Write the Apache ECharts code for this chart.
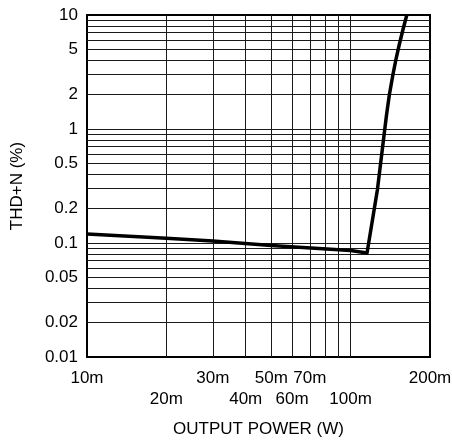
<!DOCTYPE html>
<html>
<head>
<meta charset="utf-8">
<script src="https://cdn.jsdelivr.net/npm/echarts@6/dist/echarts.min.js"></script>
<style>
html,body{margin:0;padding:0;background:#fff;}
#chart{width:452px;height:440px;}
</style>
</head>
<body>
<div id="chart"></div>
<script>
// Curve data: output power (W) vs THD+N (%)
var powerW = [0.01, 0.02, 0.03, 0.05, 0.1, 0.1154, 0.1263, 0.1339, 0.1368, 0.1402, 0.1446, 0.1484, 0.1528, 0.1578, 0.1633];
var thdPct = [0.120, 0.110, 0.104, 0.095, 0.086, 0.0817, 0.292, 0.886, 1.327, 1.988, 2.977, 4.031, 5.456, 7.385, 10];

// Tick labels
var xTickValues = [0.01, 0.02, 0.03, 0.04, 0.05, 0.06, 0.07, 0.1, 0.2];
var xTickLabels = ['10m', '20m', '30m', '40m', '50m', '60m', '70m', '100m', '200m'];
var xTickLower  = [false, true, false, true, false, true, false, true, false];
var yTickValues = [0.01, 0.02, 0.05, 0.1, 0.2, 0.5, 1, 2, 5, 10];
var yTickLabels = ['0.01', '0.02', '0.05', '0.1', '0.2', '0.5', '1', '2', '5', '10'];

// Grid lines
var xGridValues = [0.02, 0.03, 0.04, 0.05, 0.06, 0.07, 0.08, 0.09, 0.1];
var yGridValues = [0.02, 0.03, 0.04, 0.05, 0.06, 0.07, 0.08, 0.09, 0.1,
                   0.2, 0.3, 0.4, 0.5, 0.6, 0.7, 0.8, 0.9, 1,
                   2, 3, 4, 5, 6, 7, 8, 9];

function nearestIdx(arr, v) {
  var best = 0, bd = Infinity;
  for (var i = 0; i < arr.length; i++) {
    var d = Math.abs(Math.log10(arr[i]) - Math.log10(v));
    if (d < bd) { bd = d; best = i; }
  }
  return best;
}

var FONT = '"Liberation Sans", Arial, sans-serif';
var chart = echarts.init(document.getElementById('chart'), null, {renderer: 'canvas'});

var gridMarks = [];
xGridValues.forEach(function (v) { gridMarks.push({xAxis: v}); });
yGridValues.forEach(function (v) { gridMarks.push({yAxis: v}); });

chart.setOption({
  animation: false,
  backgroundColor: '#fff',
  grid: {left: 87, right: 22, top: 15, bottom: 83, outerBoundsMode: 'none', containLabel: false,
         show: true, borderColor: '#000', borderWidth: 2, backgroundColor: 'transparent'},
  xAxis: {
    type: 'log', logBase: 10, min: 0.01, max: 0.2,
    name: 'OUTPUT POWER (W)', nameLocation: 'middle', nameGap: 64,
    nameTextStyle: {fontFamily: FONT, fontSize: 17, color: '#000'},
    axisLine: {show: true, lineStyle: {color: '#000', width: 2}},
    axisTick: {show: false},
    splitLine: {show: false},
    minorSplitLine: {show: false},
    axisLabel: {
      customValues: xTickValues,
      showMinLabel: true, showMaxLabel: true,
      fontFamily: FONT, fontSize: 17, color: '#000', margin: 11, lineHeight: 21,
      formatter: function (v) {
        var i = nearestIdx(xTickValues, v);
        return (xTickLower[i] ? '\n' : '') + xTickLabels[i];
      }
    }
  },
  yAxis: {
    type: 'log', logBase: 10, min: 0.01, max: 10,
    name: 'THD+N (%)', nameLocation: 'middle', nameGap: 61,
    nameTextStyle: {fontFamily: FONT, fontSize: 17, color: '#000'},
    axisLine: {show: true, lineStyle: {color: '#000', width: 2}},
    axisTick: {show: false},
    splitLine: {show: false},
    axisLabel: {
      customValues: yTickValues,
      showMinLabel: true, showMaxLabel: true,
      fontFamily: FONT, fontSize: 17, color: '#000', margin: 9,
      formatter: function (v) { return yTickLabels[nearestIdx(yTickValues, v)]; }
    }
  },
  series: [
    {
      type: 'line', data: [], z: 1, silent: true,
      markLine: {
        silent: true, symbol: ['none', 'none'], animation: false,
        label: {show: false},
        emphasis: {disabled: true},
        lineStyle: {color: '#1a1a1a', width: 1, type: 'solid'},
        data: gridMarks
      }
    },
    {
      type: 'line', z: 5, silent: true,
      data: powerW.map(function (x, i) { return [x, thdPct[i]]; }),
      showSymbol: false, symbol: 'none',
      lineStyle: {color: '#000', width: 3.5, join: 'round'}
    }
  ]
});
</script>
</body>
</html>
